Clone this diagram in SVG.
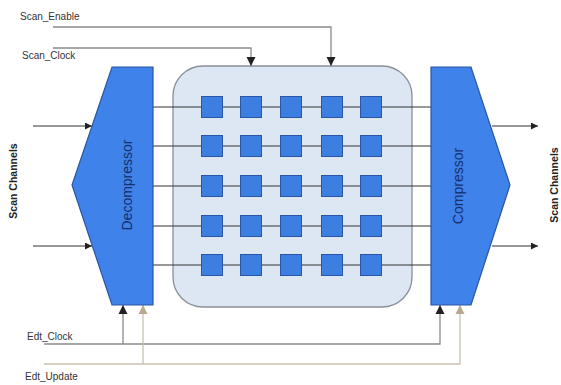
<svg xmlns="http://www.w3.org/2000/svg" width="561" height="385" viewBox="0 0 561 385">
<style>
.blk{fill:#3f82ea;stroke:#2b55a0;stroke-width:1.2}
.cell{fill:#3d7fe0;stroke:#2a56a8;stroke-width:1}
.row{stroke:#333;stroke-width:1;fill:none}
.sig{stroke:#8a8a8a;stroke-width:1.3;fill:none}
.sig2{stroke:#c9c2b2;stroke-width:1.3;fill:none}
.ch{stroke:#333;stroke-width:1;fill:none}
.lbl{font-family:"Liberation Sans",Arial,sans-serif;font-size:10px;fill:#333}
.blab{font-family:"Liberation Sans",Arial,sans-serif;font-size:14px;fill:#16306e}
.side{font-family:"Liberation Sans",Arial,sans-serif;font-size:10.5px;font-weight:bold;fill:#222}
</style>
<defs>
<marker id="ak" viewBox="0 0 10 10" refX="10" refY="5" markerWidth="7" markerHeight="7" orient="auto-start-reverse"><path d="M0,0 L10,5 L0,10 z" fill="#222"/></marker>
<marker id="at" viewBox="0 0 10 10" refX="10" refY="5" markerWidth="7" markerHeight="7" orient="auto-start-reverse"><path d="M0,0 L10,5 L0,10 z" fill="#b8a890"/></marker>
</defs>
<g id="scan-array">
<rect x="173" y="66" width="239" height="241" rx="30" ry="30" fill="#dde7f4" stroke="#8a8f98" stroke-width="1.3"/>
</g>
<g id="connectors">
<line class="row" x1="153" y1="107" x2="431" y2="107"/>
<line class="row" x1="153" y1="146" x2="431" y2="146"/>
<line class="row" x1="153" y1="186" x2="431" y2="186"/>
<line class="row" x1="153" y1="226" x2="431" y2="226"/>
<line class="row" x1="153" y1="265" x2="431" y2="265"/>
<line class="ch" x1="33" y1="126" x2="92" y2="126" marker-end="url(#ak)"/>
<line class="ch" x1="33" y1="246" x2="92" y2="246" marker-end="url(#ak)"/>
<line class="ch" x1="492" y1="126" x2="538" y2="126" marker-end="url(#ak)"/>
<line class="ch" x1="492" y1="246" x2="538" y2="246" marker-end="url(#ak)"/>
<polyline class="sig" points="53,27 331,27 331,66" marker-end="url(#ak)"/>
<polyline class="sig" points="53,48 251,48 251,66" marker-end="url(#ak)"/>
<polyline class="sig" points="44,344 440,344 440,305" marker-end="url(#ak)"/>
<polyline class="sig" points="123,344 123,305" marker-end="url(#ak)"/>
<polyline class="sig2" points="44,364 460,364 460,305" marker-end="url(#at)"/>
<polyline class="sig2" points="143,364 143,305" marker-end="url(#at)"/>
</g>
<g id="cells">
<rect class="cell" x="201.5" y="96.5" width="21" height="21"/>
<rect class="cell" x="240.5" y="96.5" width="21" height="21"/>
<rect class="cell" x="280.5" y="96.5" width="21" height="21"/>
<rect class="cell" x="321.5" y="96.5" width="21" height="21"/>
<rect class="cell" x="360.5" y="96.5" width="21" height="21"/>
<rect class="cell" x="201.5" y="135.5" width="21" height="21"/>
<rect class="cell" x="240.5" y="135.5" width="21" height="21"/>
<rect class="cell" x="280.5" y="135.5" width="21" height="21"/>
<rect class="cell" x="321.5" y="135.5" width="21" height="21"/>
<rect class="cell" x="360.5" y="135.5" width="21" height="21"/>
<rect class="cell" x="201.5" y="175.5" width="21" height="21"/>
<rect class="cell" x="240.5" y="175.5" width="21" height="21"/>
<rect class="cell" x="280.5" y="175.5" width="21" height="21"/>
<rect class="cell" x="321.5" y="175.5" width="21" height="21"/>
<rect class="cell" x="360.5" y="175.5" width="21" height="21"/>
<rect class="cell" x="201.5" y="215.5" width="21" height="21"/>
<rect class="cell" x="240.5" y="215.5" width="21" height="21"/>
<rect class="cell" x="280.5" y="215.5" width="21" height="21"/>
<rect class="cell" x="321.5" y="215.5" width="21" height="21"/>
<rect class="cell" x="360.5" y="215.5" width="21" height="21"/>
<rect class="cell" x="201.5" y="254.5" width="21" height="21"/>
<rect class="cell" x="240.5" y="254.5" width="21" height="21"/>
<rect class="cell" x="280.5" y="254.5" width="21" height="21"/>
<rect class="cell" x="321.5" y="254.5" width="21" height="21"/>
<rect class="cell" x="360.5" y="254.5" width="21" height="21"/>
</g>
<g id="decompressor">
<polygon class="blk" points="112,67 153,67 153,305 112,305 72,185"/>
<text class="blab" transform="translate(132,185) rotate(-90)" text-anchor="middle">Decompressor</text>
</g>
<g id="compressor">
<polygon class="blk" points="431,67 471,67 510,185 471,305 431,305"/>
<text class="blab" transform="translate(463,186) rotate(-90)" text-anchor="middle">Compressor</text>
</g>
<g id="labels">
<text class="side" transform="translate(17,181) rotate(-90)" text-anchor="middle">Scan Channels</text>
<text class="side" transform="translate(558,185) rotate(-90)" text-anchor="middle">Scan Channels</text>
<text class="lbl" x="20" y="20">Scan_Enable</text>
<text class="lbl" x="22" y="59">Scan_Clock</text>
<text class="lbl" x="27" y="340">Edt_Clock</text>
<text class="lbl" x="25" y="380">Edt_Update</text>
</g>
</svg>
